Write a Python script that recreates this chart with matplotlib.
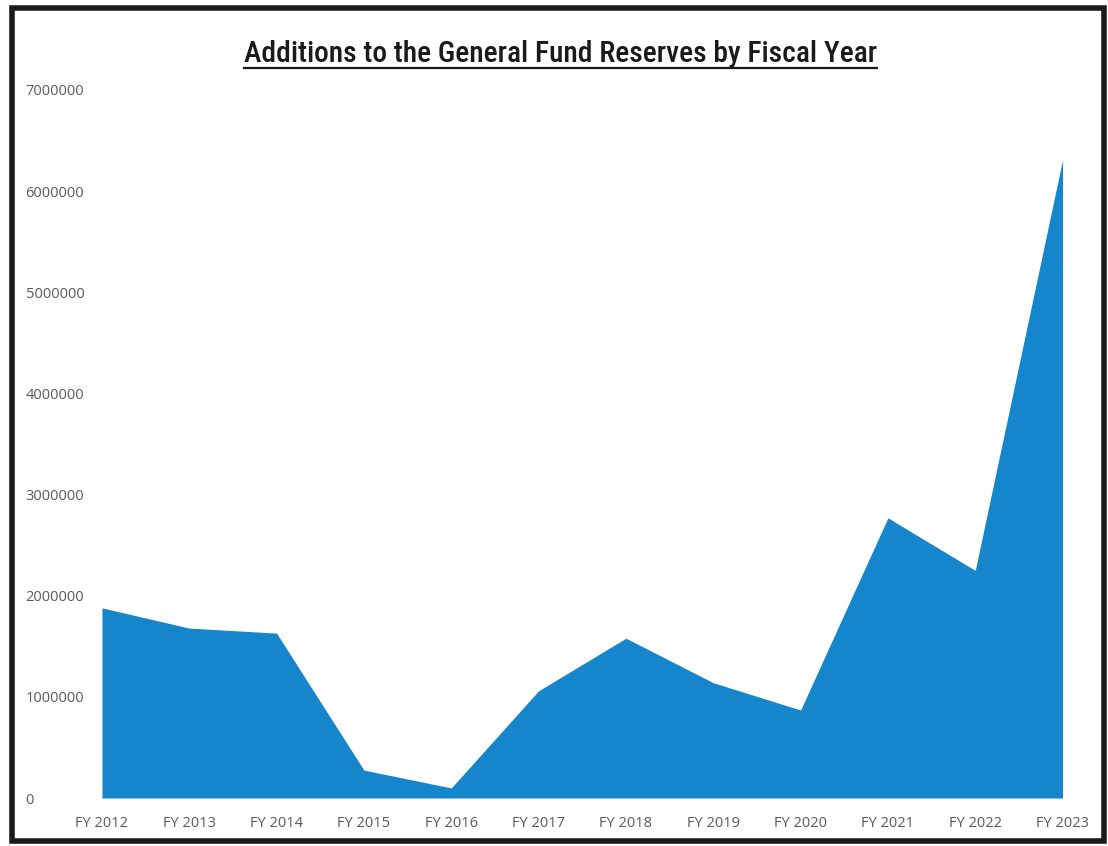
import matplotlib.pyplot as plt
from matplotlib.patches import Rectangle
from matplotlib.lines import Line2D

# fiscal years and the amount added to reserves each year
years = ["FY 2012", "FY 2013", "FY 2014", "FY 2015", "FY 2016", "FY 2017",
         "FY 2018", "FY 2019", "FY 2020", "FY 2021", "FY 2022", "FY 2023"]
additions = [1880000, 1680000, 1630000, 276000, 100000, 1060000,
             1580000, 1140000, 870000, 2770000, 2250000, 6310000]
yticks = [0, 1000000, 2000000, 3000000, 4000000, 5000000, 6000000, 7000000]

fig = plt.figure(figsize=(11.08, 8.46), dpi=100)
ax = fig.add_axes([0.092, 0.0567, 0.867, 0.837])

x = list(range(len(years)))
ax.fill_between(x, additions, 0, color="#1585cc", linewidth=0)

ax.set_xlim(0, len(years) - 1)
ax.set_ylim(0, 7000000)
ax.set_xticks(x)
ax.set_xticklabels(years)
ax.set_yticks(yticks)
ax.set_yticklabels([str(v) for v in yticks], ha="left")

for s in ax.spines.values():
    s.set_visible(False)
ax.tick_params(axis="both", length=0, labelsize=10.5, labelcolor="#595959")
ax.tick_params(axis="y", pad=55)
ax.tick_params(axis="x", pad=13)
for lbl in ax.get_xticklabels() + ax.get_yticklabels():
    lbl.set_fontfamily("Open Sans")

# title with an underline beneath it
title = fig.text(0.506, 0.927, "Additions to the General Fund Reserves by Fiscal Year",
                 ha="center", va="baseline", fontsize=22, color="#1a1a1a",
                 family=["Roboto Condensed", "DejaVu Sans Condensed", "Roboto"],
                 weight="medium", fontstretch="condensed")
fig.canvas.draw()
# shrink the title so it spans about 630 px
w = title.get_window_extent().width
if w > 632:
    title.set_fontsize(22 * 631 / w)
    fig.canvas.draw()
bb = title.get_window_extent().transformed(fig.transFigure.inverted())
fig.add_artist(Line2D([bb.x0, bb.x1], [0.920, 0.920], color="#1a1a1a", linewidth=1.6))

# dark frame round the whole chart
fig.add_artist(Rectangle((0.011, 0.006), 0.985, 0.984, transform=fig.transFigure,
                         fill=False, edgecolor="#1a1a1a", linewidth=4))

fig.savefig("out.png", dpi=100)
